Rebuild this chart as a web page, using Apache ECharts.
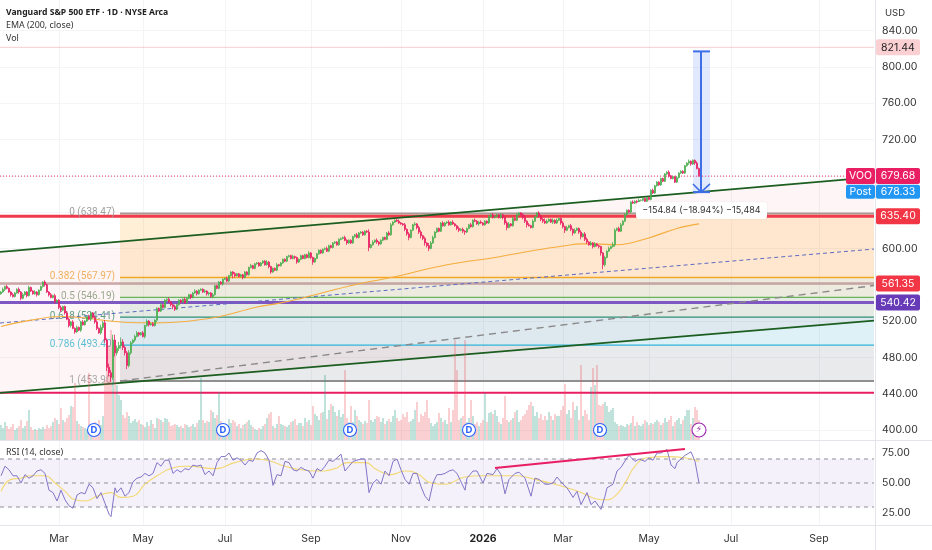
<!DOCTYPE html>
<html><head><meta charset="utf-8">
<style>html,body{margin:0;padding:0;background:#fff}#c{width:932px;height:550px}</style>
<script src="https://cdn.jsdelivr.net/npm/echarts@6/dist/echarts.min.js"></script>
</head><body><div id="c"></div>
<script>
// ---- bars are addressed by index; each trading day is one slot
const slotCount = 437;
const tickBars = [29,71,112,155,200,241,281,324,365,409];
const tickNames = ['Mar','May','Jul','Sep','Nov','2026','Mar','May','Jul','Sep'];
const priceTicks = [400,440,480,520,600,720,760,800,840];
const rsiTicks = [25,50,75];

const closes = [
552,555,558,556,552,549,547,551,555,552,
545,549,552,548,557,553,550,552,549,554,
558,563,560,552,549,546,548,541,543,535,
532,536,529,522,515,519,512,508,513,510,
519,516,520,525,522,529,524,519,512,507,
513,518,499,469,463,458,499,485,490,493,
497,491,485,471,485,496,499,503,507,505,
507,503,515,520,516,517,515,521,534,531,
538,535,543,544,541,538,536,533,538,543,
541,544,540,545,549,546,551,553,550,554,
555,552,553,550,551,547,549,559,556,563,
561,566,567,564,570,574,572,570,572,569,
571,568,574,571,579,581,578,583,584,581,
584,586,582,585,580,574,578,576,582,581,
584,588,586,591,592,589,591,590,585,588,
592,589,593,590,595,590,585,589,594,598,
595,599,600,597,603,601,606,607,604,610,
611,612,609,606,609,606,613,615,612,617,
618,615,619,618,601,604,607,609,607,605,
609,612,610,617,615,626,629,631,630,628,
627,626,621,616,612,620,626,627,623,618,
614,611,606,603,600,606,612,618,622,619,
628,625,628,629,626,629,627,625,622,620,
621,619,618,622,626,624,631,630,627,629,
628,626,630,628,635,637,634,635,637,634,
637,634,628,623,627,625,633,631,637,639,
637,634,630,626,625,623,630,635,639,636,
632,630,628,630,632,629,631,628,631,633,
628,624,620,623,625,621,617,620,622,618,
613,616,610,607,604,606,602,605,603,602,
595,582,590,597,600,602,604,620,622,619,
626,630,637,642,640,651,650,652,649,653,
653,655,652,656,654,664,661,669,673,670,
677,674,682,684,680,677,679,673,678,683,
685,683,691,694,696,693,697,694,688,680];
const wickUp = [
1,2,1,2,1,1,2,1,1,2,1,2,1,1,2,1,1,2,1,1,
1,1,2,1,1,2,1,2,1,1,2,1,1,2,2,1,2,1,2,1,
1,2,1,1,2,1,1,2,2,1,3,2,3,2,4,3,6,6,3,4,
5,3,2,2,3,2,1,2,2,1,1,2,1,2,1,1,2,1,1,1,
2,1,1,1,2,1,1,2,1,1,1,1,2,1,1,1,1,2,1,1,
1,1,2,1,1,1,2,1,1,1,1,1,1,2,1,1,1,2,1,1,
1,1,1,1,1,2,1,1,1,1,1,1,1,2,1,1,1,1,2,1,
1,1,1,1,1,1,2,1,1,1,1,1,1,1,2,1,1,1,1,1,
1,1,1,2,1,1,1,1,1,1,1,1,2,1,1,1,1,1,2,1,
1,1,1,1,3,1,2,1,2,1,1,1,1,1,2,2,1,1,2,2,
1,1,2,1,2,1,1,2,1,2,2,1,2,1,3,2,2,1,1,1,
1,2,1,1,2,1,2,1,1,2,1,2,1,1,1,2,1,2,1,1,
2,1,1,1,2,1,2,1,1,1,2,1,1,2,2,1,2,1,2,1,
1,2,3,1,2,1,2,1,1,2,1,2,3,2,1,1,2,1,2,1,
1,2,1,2,1,2,1,2,1,1,2,1,2,2,1,2,1,2,1,1,
1,1,2,1,2,1,3,2,1,2,2,1,2,1,1,1,2,1,1,2,
1,1,1,1,1,1,2,1,1,1,1,1,1,1,2,1,1,1,2,1,
1,1,1,1,2,1,1,1,2,1,2,1,1,4,2,1,1,2,1,1,
1,1,1,2,1,1,1,2,1,2];
const wickDown = [
1,1,2,1,1,2,1,1,1,2,2,1,1,2,1,1,1,1,2,1,
1,1,2,1,2,1,1,2,1,2,2,1,2,1,2,2,1,2,1,1,
2,1,1,1,1,2,1,2,2,1,2,3,3,4,4,5,3,4,3,3,
3,3,3,4,2,2,1,2,1,2,1,1,2,1,2,1,1,1,2,1,
1,1,1,2,1,2,3,2,1,1,2,1,1,1,1,2,1,1,2,1,
1,1,1,2,2,1,2,1,1,1,1,2,1,1,1,1,5,2,1,1,
1,2,1,1,1,1,1,1,1,1,1,1,1,1,2,2,1,1,1,1,
1,1,1,1,1,1,1,2,2,1,1,1,1,1,1,2,3,1,1,1,
1,1,1,1,1,1,1,1,1,1,1,1,1,2,1,1,1,1,1,1,
1,1,1,1,4,1,1,1,2,2,1,1,1,1,1,1,1,1,1,1,
1,1,2,2,3,1,1,1,2,2,3,2,3,2,3,1,1,1,1,1,
1,1,1,1,1,1,1,1,2,2,1,2,3,1,1,1,1,1,1,2,
1,1,1,1,1,1,1,1,1,1,1,2,2,3,1,1,1,1,1,1,
1,2,2,3,1,1,1,1,1,2,2,2,1,1,1,1,2,1,1,1,
2,2,3,1,1,2,3,1,1,2,3,1,2,2,1,1,2,1,1,2,
3,5,2,1,1,1,1,2,1,1,1,1,1,1,1,1,1,1,1,1,
1,1,1,1,1,1,1,1,1,1,1,1,1,1,2,1,1,1,1,1,
1,1,1,1,2,2,1,2,1,1,1,1,1,1,1,1,1,1,1,2,
1,1,1,1,1,1,1,2,2,2];
const volumes = [
15,12,18,14,11,13,16,10,12,14,20,12,14,19,30,13,10,11,10,12,
11,13,11,15,12,14,18,22,20,16,32,20,18,22,25,34,33,57,19,16,
14,13,12,11,67,14,16,18,14,20,15,24,60,100,95,110,95,100,55,45,
40,25,22,28,24,17,19,21,18,20,16,15,13,18,14,20,16,12,22,21,
20,18,22,21,18,14,15,16,15,13,14,12,16,15,13,14,16,13,17,20,
62,20,17,19,18,30,28,22,25,48,19,14,16,15,21,17,20,18,14,16,
12,15,16,18,20,15,13,11,10,12,11,14,16,22,26,28,14,12,16,24,
16,15,14,13,15,18,19,21,15,17,17,14,22,18,20,15,34,26,24,20,
27,28,65,21,30,36,34,28,24,30,23,26,70,22,18,34,18,30,24,20,
18,16,19,17,40,20,18,21,24,23,18,22,16,19,21,18,24,30,22,19,
20,26,23,28,18,19,21,30,38,18,26,24,28,40,22,17,14,16,18,27,
22,18,20,16,32,18,30,100,70,20,22,24,100,18,22,40,24,16,18,14,
17,20,47,18,27,28,26,30,24,18,16,22,44,20,18,20,22,28,30,18,
20,24,26,30,35,38,34,24,28,22,26,20,24,20,28,24,20,26,24,24,
30,34,56,26,30,22,38,30,34,20,75,24,30,26,20,53,72,55,75,35,
34,36,38,34,28,30,32,18,16,14,15,14,13,16,15,17,24,14,18,15,
14,16,20,18,15,17,16,18,20,18,15,17,22,18,20,24,14,18,20,22,
16,20,24,30,30,16,22,33,30,20];
const emaBars = [0,15,30,60,77,107,127,140,150,157,177,195,223,247,267,282,290,297,308,323,338,349];
const emaVals = [514,521,525,519,518,524,535,540,545,549,560,568,582,590,598,603,605,605,604,611,622,627];
const rsiBars = [0,2,4,6,8,10,12,14,16,18,20,22,24,26,28,30,32,34,36,38,40,42,44,46,48,50,52,54,55,57,58,60,62,64,66,68,70,72,74,76,78,80,82,84,86,88,90,92,94,96,98,100,102,104,106,108,110,112,114,116,118,120,122,124,126,128,130,132,134,136,138,140,142,144,146,148,150,152,154,156,158,160,162,164,166,168,170,172,174,176,178,180,182,184,186,188,190,192,194,196,198,200,202,204,206,208,210,212,214,216,218,220,222,224,226,228,230,232,233,236,238,241,243,246,248,250,252,254,257,259,262,265,267,269,272,274,276,278,281,283,286,288,290,293,295,297,300,302,303,306,308,310,313,314,317,319,322,324,326,328,330,333,335,337,338,342,345,347,348,349];
const rsiVals = [56,64,61,56,56,50,57,54,56,60,61,58,44,42,35,44,36,31,29,40,42,41,49,46,37,42,33,24,22,46,42,46,39,42,51,54,55,58,56,58,67,64,69,69,58,61,59,62,61,65,64,65,57,60,56,67,72,72,75,69,71,69,65,69,68,75,77,75,69,48,57,56,68,67,61,60,63,61,60,54,62,60,64,69,68,71,74,60,64,68,69,70,70,42,50,53,49,60,56,68,70,61,53,49,58,58,47,39,35,50,57,57,58,60,61,58,51,44,54,60,60,50,58,57,62,57,41,53,58,59,54,39,54,53,49,49,50,55,49,46,38,43,32,42,32,35,28,39,46,49,60,63,71,73,68,70,68,71,69,75,75,78,65,62,67,73,76,68,68,50];
const rsiMaBars = [0,5,10,15,22,27,32,37,42,48,55,60,66,72,78,85,93,107,117,127,133,142,150,158,167,173,182,188,195,202,208,215,222,232,240,250,258,267,277,287,302,307,312,317,323,333,342,349];
const rsiMaVals = [43,53,54,56,56,50,43,36,35,39,42,38,39,49,56,62,64,62,67,70,69,64,61,60,62,67,67,61,57,60,58,50,49,55,56,56,56,53,49,44,36,39,50,64,71,72,71,68];
const rsiLimits = [70,50,30];
const rsiTrendBars = [247,342];
const rsiTrendVals = [62.5,78.3];

// ---- drawings on the price pane (bar index, price)
const fibLevels = [638.47,567.97,546.19,524.41,493.40,453.90];
const fibNames = ['0 (638.47)','0.382 (567.97)','0.5 (546.19)','0.618 (524.41)','0.786 (493.40)','1 (453.90)'];
const fibLineColors = ['#a99a95','#f5a623','#66b35a','#2f8f73','#2fb5d8','#8f8f8f'];
const fibTextColors = ['#a0a0a0','#f0b060','#9aa98f','#5f9f86','#5cc0d4','#a8a8a8'];
const fibFills = ['rgba(255,152,0,0.155)','rgba(120,170,70,0.13)','rgba(60,170,110,0.13)','rgba(0,150,190,0.13)','rgba(120,123,134,0.16)'];
const fibStartBar = 59.5;
const hLevels = [635.40,561.35,540.42,441,821.44];
const hColors = ['#ef3b4c','rgba(185,140,140,0.75)','#7e57c2','#e91e63','rgba(242,54,69,0.25)'];
const hWidths = [3,2.5,3,2,1];
const lastClose = 679.68, postClose = 678.33;
const channelBars = [-0.5,436.5];
const channelTop = [596.3,678.5];
const channelBottom = [441,520.4];
const blueDash = [517.8,599.3];
const grayDashBars = [59.5,436.5];
const grayDash = [454,559.1];
const arrowBars = [346,350,354.5];
const arrowTop = 817, arrowBottom = 662, arrowHead = 671;
const measureText = '\u2212154.84 (\u221218.94%) \u221215,484';
const measurePrice = 641.7;
const dividendBars = [46.5,111,174.5,234,299.5];
const earningBar = 349;
const tagPrices = [821.44,679.68,678.33,635.40,561.35,540.42];
const tagTexts = ['821.44','679.68','678.33','635.40','561.35','540.42'];
const tagFills = ['#fbd0d2','#e91e63','#2196f3','#f23645','#f23645','#673ab7'];
const tagColors = ['#222','#fff','#fff','#fff','#fff','#fff'];

const FONT = 'Inter, "Noto Sans", sans-serif';
const opens = closes.map((c,i)=> i ? closes[i-1] : 550);
const candles = closes.map((c,i)=>[i, opens[i], c, Math.min(opens[i],c)-wickDown[i], Math.max(opens[i],c)+wickUp[i]]);
const volData = volumes.map((v,i)=>({value:[i,v], itemStyle:{color: closes[i]>=opens[i] ? 'rgba(45,160,135,0.5)' : 'rgba(240,80,90,0.45)'}}));
const zip=(a,b)=>a.map((v,i)=>[v,b[i]]);

function seg(pts,color,width,type,z,ax){
  return {type:'line',xAxisIndex:ax||0,yAxisIndex:ax||0,data:pts,symbol:'none',silent:true,animation:false,z:z||3,
    lineStyle:{color,width:width,type:type||'solid',cap:'butt'}};
}
const series=[];
// channel fill
series.push({type:'custom',xAxisIndex:0,yAxisIndex:0,z:1,silent:true,clip:true,animation:false,
  data:[[channelBars[0],channelTop[0]]],
  renderItem(p,api){
    const pts=[[channelBars[0],channelTop[0]],[channelBars[1],channelTop[1]],[channelBars[1],channelBottom[1]],[channelBars[0],channelBottom[0]]].map(q=>api.coord(q));
    return {type:'polygon',shape:{points:pts},style:{fill:'rgba(242,54,69,0.05)'}};
  }});
// fib fills
series.push({type:'custom',xAxisIndex:0,yAxisIndex:0,z:1,silent:true,clip:true,animation:false,
  data:fibFills.map((c,i)=>[fibStartBar,fibLevels[i],fibLevels[i+1]]),
  renderItem(p,api){
    const a=api.coord([api.value(0),api.value(1)]), b=api.coord([channelBars[1],api.value(2)]);
    return {type:'rect',shape:{x:a[0],y:a[1],width:b[0]-a[0],height:b[1]-a[1]},style:{fill:fibFills[p.dataIndex]}};
  }});
// arrow box
series.push({type:'custom',xAxisIndex:0,yAxisIndex:0,z:2,silent:true,clip:true,animation:false,
  data:[[arrowBars[0],arrowTop]],
  renderItem(p,api){
    const a=api.coord([arrowBars[0],arrowTop]), b=api.coord([arrowBars[2],arrowBottom]);
    return {type:'rect',shape:{x:a[0],y:a[1],width:b[0]-a[0],height:b[1]-a[1]},style:{fill:'rgba(41,98,255,0.14)'}};
  }});
fibLevels.forEach((l,i)=>series.push(seg([[fibStartBar,l],[channelBars[1],l]],fibLineColors[i],i==0||i==5?2:(i==1?1.5:1.2),'solid',2)));
hLevels.forEach((l,i)=>series.push(seg([[channelBars[0],l],[channelBars[1],l]],hColors[i],hWidths[i],'solid',2)));
series.push(seg([[channelBars[0],lastClose],[channelBars[1],lastClose]],'#ee5a86',1.3,[1,2],2));
series.push(seg(zip(channelBars,channelTop),'#1b5e20',1.8,'solid',3));
series.push(seg(zip(channelBars,channelBottom),'#1b5e20',1.8,'solid',3));
series.push(seg(zip(channelBars,blueDash),'#5c6bc0',1,[4,3],3));
series.push(seg(zip(grayDashBars,grayDash),'#8a8a8a',1.4,[7,5],3));
// EMA
series.push(Object.assign(seg(zip(emaBars,emaVals),'#f5ad3d',1.1,'solid',4),{smooth:0.4}));
// fib labels
series.push({type:'custom',xAxisIndex:0,yAxisIndex:0,z:3,silent:true,clip:false,animation:false,
  data:fibLevels.map(l=>[57,l]),
  renderItem(p,api){
    const c=api.coord([api.value(0),api.value(1)]);
    return {type:'text',style:{x:115,y:c[1]-1,text:fibNames[p.dataIndex],fill:fibTextColors[p.dataIndex],font:'10px Roboto, sans-serif',textAlign:'right',textVerticalAlign:'middle'}};
  }});
// volume
series.push({type:'bar',xAxisIndex:1,yAxisIndex:1,data:volData,barWidth:1.2,silent:true,animation:false,z:4});
// candles
series.push({type:'candlestick',xAxisIndex:0,yAxisIndex:0,data:candles,encode:{x:0,y:[1,2,3,4]},barWidth:1.6,silent:true,animation:false,z:5,
  itemStyle:{color:'#4caf50',color0:'#e91e63',borderColor:'#4caf50',borderColor0:'#e91e63',borderWidth:0.8}});
// arrow
series.push(seg([[arrowBars[0],arrowTop],[arrowBars[2],arrowTop]],'#3f6fe8',2,'solid',6));
series.push(seg([[arrowBars[0],arrowBottom],[arrowBars[2],arrowBottom]],'#3f6fe8',2,'solid',6));
series.push(seg([[arrowBars[1],arrowTop],[arrowBars[1],arrowBottom]],'#3f6fe8',2,'solid',6));
series.push(seg([[arrowBars[0],arrowHead],[arrowBars[1],arrowBottom],[arrowBars[2],arrowHead]],'#3f6fe8',1.6,'solid',6));
// dividends / earnings
series.push({type:'scatter',xAxisIndex:1,yAxisIndex:1,z:7,silent:true,animation:false,symbol:'circle',symbolSize:13,
  data:dividendBars.map(b=>[b,10]),
  itemStyle:{color:'#fff',borderColor:'#2962ff',borderWidth:1.1,opacity:1},
  label:{show:true,position:'inside',formatter:'D',color:'#2962ff',fontSize:9.5,fontWeight:'bold',fontFamily:FONT}});
series.push({type:'scatter',xAxisIndex:1,yAxisIndex:1,z:7,silent:true,animation:false,symbol:'circle',symbolSize:14,
  data:[[earningBar,10]],
  itemStyle:{color:'#fff',borderColor:'#9c27b0',borderWidth:1.1,opacity:1},
  label:{show:true,position:'inside',formatter:'\u26A1',color:'#9c27b0',fontSize:9,fontFamily:'"DejaVu Sans"'}});
// RSI pane
series.push({type:'custom',xAxisIndex:2,yAxisIndex:2,z:1,silent:true,clip:true,animation:false,
  data:[[channelBars[0],rsiLimits[0]]],
  renderItem(p,api){
    const a=api.coord([channelBars[0],rsiLimits[0]]), b=api.coord([channelBars[1],rsiLimits[2]]);
    return {type:'rect',shape:{x:a[0],y:a[1],width:b[0]-a[0],height:b[1]-a[1]},style:{fill:'rgba(126,87,194,0.085)'}};
  }});
rsiLimits.forEach(v=>series.push(seg([[channelBars[0],v],[channelBars[1],v]],'#8f8f98',1,[4,4],2,2)));
series.push(Object.assign(seg(zip(rsiMaBars,rsiMaVals),'#f3d873',1.1,'solid',3,2),{smooth:0.5}));
series.push(seg(zip(rsiBars,rsiVals),'#8375c8',1,'solid',4,2));
series.push(seg(zip(rsiTrendBars,rsiTrendVals),'#e91e63',2,'solid',5,2));
// measure label + price tags
series.push({type:'custom',xAxisIndex:0,yAxisIndex:0,z:20,silent:true,clip:false,animation:false,
  data:[[arrowBars[1],measurePrice]],
  renderItem(p,api){
    const c=api.coord([api.value(0),api.value(1)]);
    return {type:'group',children:[
      {type:'rect',shape:{x:c[0]-65,y:c[1]-8.5,width:131,height:17,r:3},style:{fill:'#fff',shadowBlur:2,shadowColor:'rgba(0,0,0,0.08)'}},
      {type:'text',style:{x:c[0]+0.5,y:c[1],text:measureText,fill:'#333',font:'9px '+FONT,textAlign:'center',textVerticalAlign:'middle'}}
    ]};
  }});
series.push({type:'custom',xAxisIndex:0,yAxisIndex:0,z:21,silent:true,clip:false,animation:false,
  data:tagPrices.map(v=>[0,v]),
  renderItem(p,api){
    const i=p.dataIndex;
    const raw=api.coord([0,api.value(1)])[1];
    const y=(i==2)?raw+14.5:raw;
    const h=i==2?14:16;
    const kids=[
      {type:'rect',shape:{x:876,y:y-h/2,width:44,height:h,r:2},style:{fill:tagFills[i]}},
      {type:'text',style:{x:898,y:y,text:tagTexts[i],fill:tagColors[i],font:'10.5px '+FONT,textAlign:'center',textVerticalAlign:'middle'}}
    ];
    if(i==1||i==2){
      kids.push({type:'rect',shape:{x:846,y:y-h/2,width:29,height:h,r:2},style:{fill:tagFills[i]}});
      kids.push({type:'text',style:{x:860.5,y:y,text:i==1?'VOO':'Post',fill:'#fff',font:'10.5px '+FONT,textAlign:'center',textVerticalAlign:'middle'}});
    }
    return {type:'group',children:kids};
  }});

const gridRect={left:0,width:874};
const xCommon={type:'value',min:-0.5,max:436.5,axisLine:{show:false},
  axisTick:{show:false,customValues:tickBars},
  splitLine:{show:true,lineStyle:{color:'#f4f4f6',width:1}}};
const chart=echarts.init(document.getElementById('c'),null,{renderer:'canvas'});
chart.setOption({
  animation:false,backgroundColor:'#fff',
  grid:[Object.assign({top:0,height:440},gridRect),Object.assign({top:0,height:440},gridRect),Object.assign({top:441,height:84},gridRect)],
  xAxis:[
    Object.assign({gridIndex:0,axisLabel:{show:false,customValues:tickBars}},xCommon),
    Object.assign({gridIndex:1,axisLabel:{show:false},splitLine:{show:false}},{type:'value',min:-0.5,max:436.5,axisLine:{show:false},axisTick:{show:false}}),
    Object.assign({gridIndex:2,axisLabel:{show:true,customValues:tickBars,margin:8,color:'#333',fontSize:10.5,fontFamily:FONT,
      formatter:(v)=>{const n=tickNames[tickBars.indexOf(v)]||'';return n==='2026'?'{b|2026}':n;},
      rich:{b:{fontWeight:'bold',fontSize:10.5,color:'#222',fontFamily:FONT}}}},xCommon)
  ],
  yAxis:[
    {gridIndex:0,type:'value',position:'right',min:389,max:873.6,axisLine:{show:false},
      axisTick:{show:false,customValues:[400,440,480,520,560,600,640,680,720,760,800,840]},
      axisLabel:{customValues:priceTicks,margin:8,color:'#333',fontSize:10.5,fontFamily:FONT,formatter:v=>v.toFixed(2)},
      splitLine:{show:true,lineStyle:{color:'#f5f5f7'}}},
    {gridIndex:1,type:'value',position:'right',min:0,max:440,show:false},
    {gridIndex:2,type:'value',position:'right',min:15,max:85,axisLine:{show:false},
      axisTick:{show:false,customValues:rsiTicks},
      axisLabel:{customValues:rsiTicks,margin:8,color:'#333',fontSize:10.5,fontFamily:FONT,formatter:v=>v.toFixed(2)},
      splitLine:{show:false}}
  ],
  graphic:[
    {type:'line',shape:{x1:0,y1:440.5,x2:932,y2:440.5},style:{stroke:'#e3e5ea',lineWidth:1},z:30},
    {type:'line',shape:{x1:0,y1:525.5,x2:932,y2:525.5},style:{stroke:'#e3e5ea',lineWidth:1},z:30},
    {type:'line',shape:{x1:875.5,y1:0,x2:875.5,y2:550},style:{stroke:'#e3e5ea',lineWidth:1},z:30},
    {type:'text',x:6,y:8,z:30,style:{text:'Vanguard S&P 500 ETF \u00B7 1D \u00B7 NYSE Arca',fill:'#222',font:'bold 8.6px "Noto Sans", sans-serif'}},
    {type:'text',x:6,y:21,z:30,style:{text:'EMA (200, close)',fill:'#333',font:'8.9px "Noto Sans", sans-serif'}},
    {type:'text',x:6,y:34,z:30,style:{text:'Vol',fill:'#333',font:'8.9px "Noto Sans", sans-serif'}},
    {type:'text',x:6,y:448,z:30,style:{text:'RSI (14, close)',fill:'#333',font:'8.9px "Noto Sans", sans-serif'}},
    {type:'text',x:885,y:8,z:30,style:{text:'USD',fill:'#333',font:'9.5px '+FONT}}
  ],
  series
});
</script></body></html>
